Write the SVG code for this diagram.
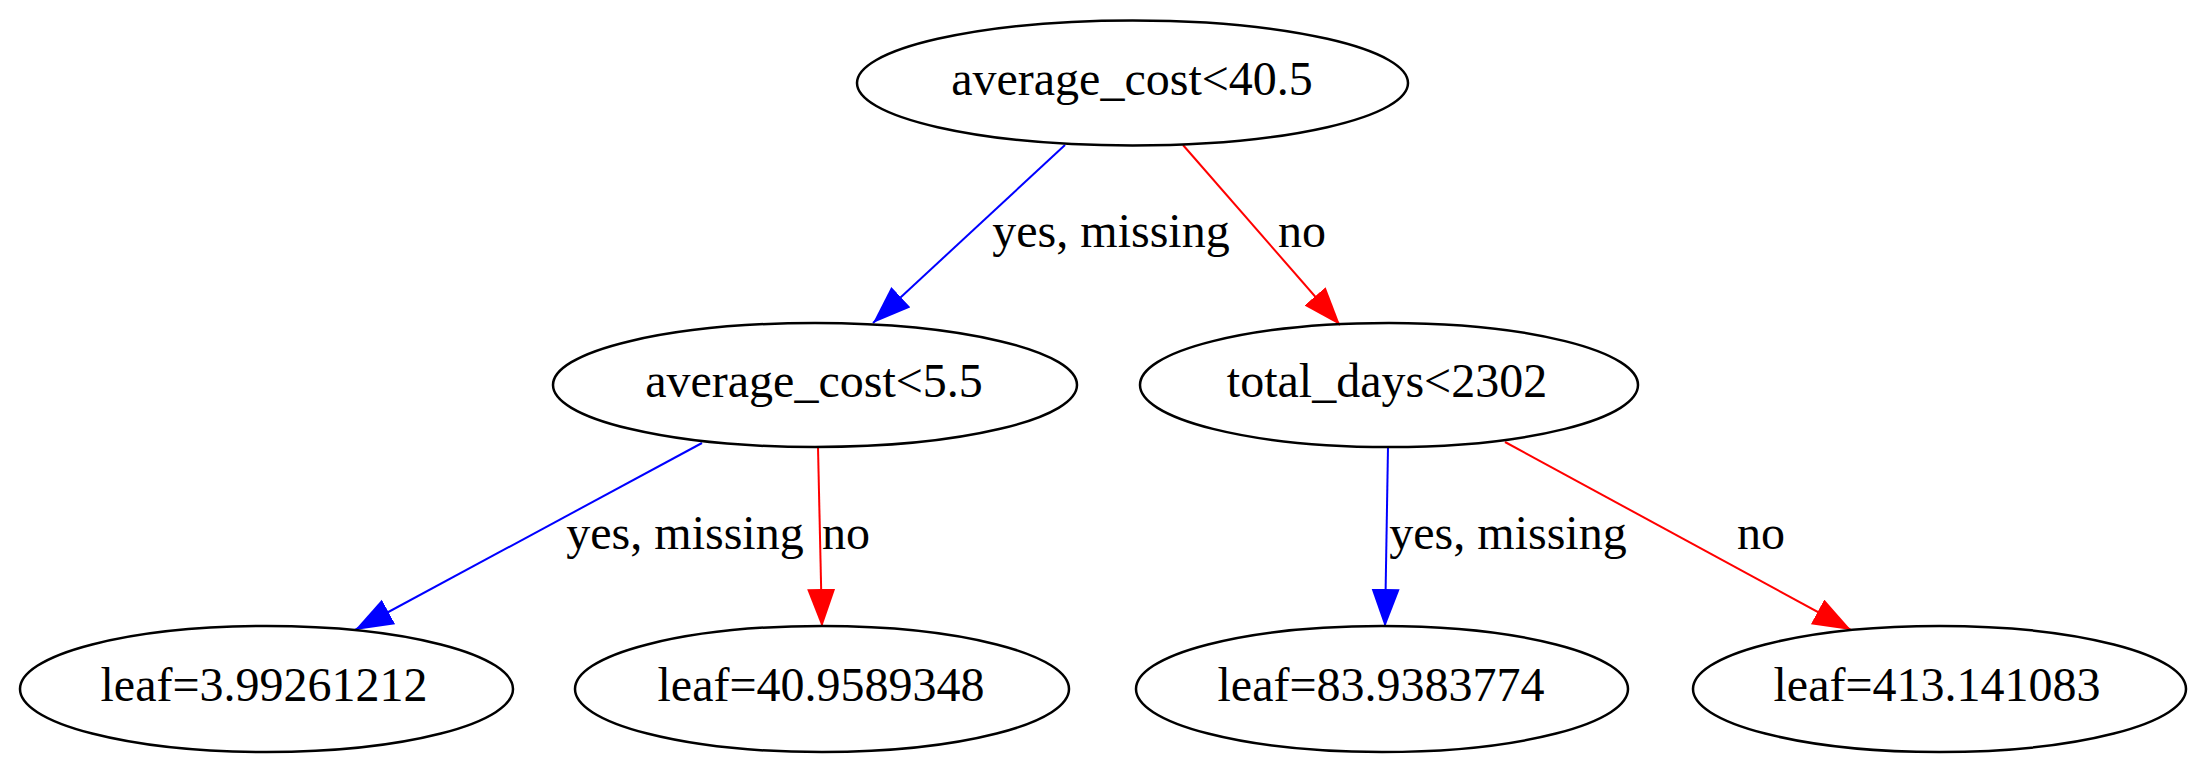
<svg xmlns="http://www.w3.org/2000/svg" width="2206" height="773" viewBox="0 0 2206 773">
<style>
.node ellipse{fill:none;stroke:#000;stroke-width:2.5}
text{font-family:"Liberation Serif","Times New Roman",serif;font-size:48px;fill:#000;text-anchor:middle}
.e{fill:none;stroke-width:2}
.blue{stroke:#0000ff}
.red{stroke:#ff0000}
</style>
<defs>
<marker id="ab" markerUnits="userSpaceOnUse" markerWidth="40" markerHeight="30" refX="38" refY="14" orient="auto" viewBox="0 0 40 30">
<path d="M0,0 L38,14 L0,28 Z" fill="#0000ff"/>
</marker>
<marker id="ar" markerUnits="userSpaceOnUse" markerWidth="40" markerHeight="30" refX="38" refY="14" orient="auto" viewBox="0 0 40 30">
<path d="M0,0 L38,14 L0,28 Z" fill="#ff0000"/>
</marker>
</defs>
<rect width="2206" height="773" fill="#fff"/>
<g id="connectors">
<path class="e blue" d="M1065,145 L873,323" marker-end="url(#ab)"/>
<text x="1111" y="247">yes, missing</text>
<path class="e red" d="M1183,145 L1340,325" marker-end="url(#ar)"/>
<text x="1302" y="247">no</text>
<path class="e blue" d="M702,443 L355,630" marker-end="url(#ab)"/>
<text x="685" y="549">yes, missing</text>
<path class="e red" d="M818,447 L822,627" marker-end="url(#ar)"/>
<text x="846" y="549">no</text>
<path class="e blue" d="M1388,447 L1385,627" marker-end="url(#ab)"/>
<text x="1508" y="549">yes, missing</text>
<path class="e red" d="M1505,442 L1851,630" marker-end="url(#ar)"/>
<text x="1761" y="549">no</text>
</g>
<g id="n0" class="node"><ellipse cx="1132.5" cy="83" rx="275.5" ry="62.5"/><text x="1132" y="95">average_cost&lt;40.5</text></g>
<g id="n1" class="node"><ellipse cx="815" cy="385" rx="262" ry="62"/><text x="814" y="397">average_cost&lt;5.5</text></g>
<g id="n2" class="node"><ellipse cx="1389" cy="385" rx="249" ry="62"/><text x="1387" y="397">total_days&lt;2302</text></g>
<g id="n3" class="node"><ellipse cx="266.5" cy="689" rx="246.5" ry="63"/><text x="264" y="701">leaf=3.99261212</text></g>
<g id="n4" class="node"><ellipse cx="822" cy="689" rx="247" ry="63"/><text x="821" y="701">leaf=40.9589348</text></g>
<g id="n5" class="node"><ellipse cx="1382" cy="689" rx="246" ry="63"/><text x="1381" y="701">leaf=83.9383774</text></g>
<g id="n6" class="node"><ellipse cx="1939.5" cy="689" rx="246.5" ry="63"/><text x="1937" y="701">leaf=413.141083</text></g>
</svg>
